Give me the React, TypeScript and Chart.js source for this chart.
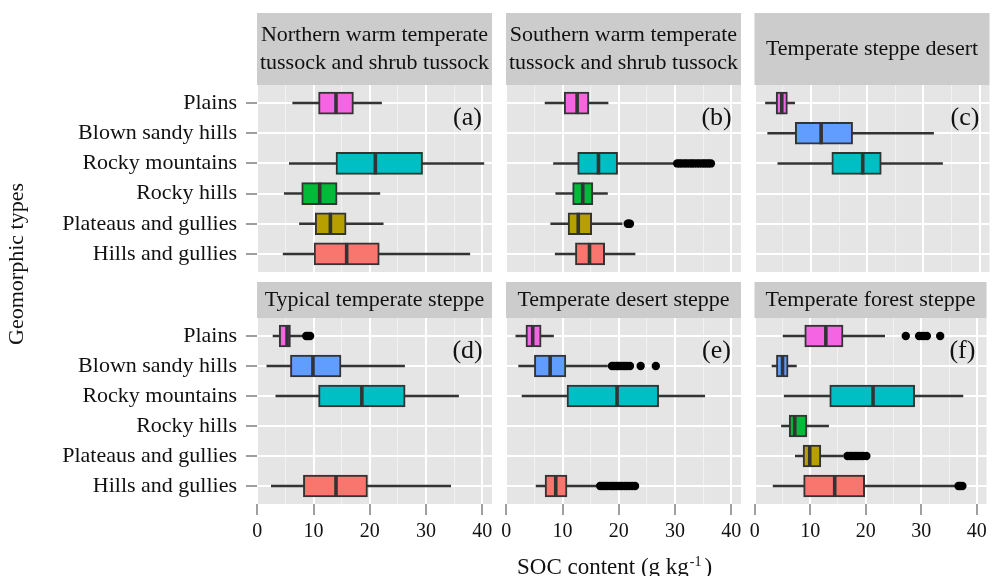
import React, { useEffect, useRef } from 'react';
import { Chart, registerables } from 'chart.js';

Chart.register(...registerables);

const W = 992;
const H = 576;
const FONT = '"Liberation Serif", "Times New Roman", serif';
const TEXT = '#111111';

// ---------- data ----------
const categories = [
  'Plains',
  'Blown sandy hills',
  'Rocky mountains',
  'Rocky hills',
  'Plateaus and gullies',
  'Hills and gullies',
];
const categoryColors = ['#F564E3', '#619CFF', '#00BFC4', '#00BA38', '#B79F00', '#F8766D'];
const xTicks = [0, 5, 10, 15, 20, 25, 30, 35, 40];
const xLabelTicks = [0, 10, 20, 30, 40];

const titleA = ['Northern warm temperate', 'tussock and shrub tussock'];
const titleB = ['Southern warm temperate', 'tussock and shrub tussock'];
const titleC = ['Temperate steppe desert'];
const titleD = ['Typical temperate steppe'];
const titleE = ['Temperate desert steppe'];
const titleF = ['Temperate forest steppe'];
const panelTags = ['(a)', '(b)', '(c)', '(d)', '(e)', '(f)'];
const yAxisTitle = 'Geomorphic types';
const xAxisTitleMain = 'SOC content (g kg';
const xAxisTitleSup = '-1';
const xAxisTitleEnd = ')';

// [lower whisker, Q1, median, Q3, upper whisker] per category (null = not present)
const statsA = [
  [6.3, 10.9, 14.0, 17.1, 22.1],
  null,
  [5.7, 14.0, 21.0, 29.4, 40.3],
  [4.8, 7.9, 11.1, 14.2, 21.8],
  [7.5, 10.3, 13.0, 15.8, 22.4],
  [4.6, 10.1, 15.9, 21.7, 37.8],
];
const statsB = [
  [6.9, 10.3, 12.6, 14.7, 18.1],
  null,
  [8.4, 12.7, 16.4, 19.8, 30.0],
  [8.8, 11.8, 13.6, 15.4, 18.0],
  [7.9, 11.0, 12.8, 15.2, 20.6],
  [8.7, 12.3, 14.8, 17.5, 22.9],
];
const statsC = [
  [1.9, 3.8, 4.8, 5.8, 7.1],
  [2.3, 7.2, 11.8, 17.4, 31.8],
  [4.1, 13.7, 19.2, 22.5, 33.4],
  null,
  null,
  null,
];
const statsD = [
  [2.8, 3.9, 5.3, 5.9, 8.0],
  [1.7, 5.9, 9.9, 14.9, 26.2],
  [3.3, 10.9, 18.6, 26.3, 35.8],
  null,
  null,
  [2.5, 8.2, 14.0, 19.6, 34.4],
];
const statsE = [
  [1.7, 3.5, 4.7, 6.2, 8.4],
  [2.2, 5.0, 7.8, 10.6, 18.0],
  [2.8, 10.8, 19.7, 27.1, 35.3],
  null,
  null,
  [5.3, 6.9, 8.8, 10.8, 16.0],
];
const statsF = [
  [5.1, 9.0, 12.8, 15.9, 23.4],
  [3.1, 3.9, 5.0, 6.0, 7.5],
  [5.3, 13.5, 21.3, 28.8, 37.5],
  [4.8, 6.2, 7.2, 9.4, 13.3],
  [7.3, 8.7, 9.9, 11.9, 15.9],
  [3.3, 8.8, 14.4, 19.8, 36.0],
];

// outliers: [category index, values]
const outliersA: [number, number[]][] = [];
const outliersB: [number, number[]][] = [
  [2, [30.4, 30.8, 31.2, 31.7, 32.1, 32.6, 33.0, 33.4, 33.9, 34.3, 34.8, 35.2, 35.6, 36.0, 36.4]],
  [4, [21.6, 21.8, 22.0]],
];
const outliersC: [number, number[]][] = [];
const outliersD: [number, number[]][] = [[0, [8.7, 9.0, 9.4]]];
const outliersE: [number, number[]][] = [
  [1, [18.8, 19.2, 19.6, 19.9, 20.3, 20.7, 21.1, 21.5, 22.0, 23.9, 26.6]],
  [5, [16.7, 17.1, 17.5, 17.9, 18.4, 18.8, 19.2, 19.6, 20.1, 20.5, 21.0, 21.4, 21.9, 22.4, 22.9]],
];
const outliersF: [number, number[]][] = [
  [0, [27.2, 29.6, 30.1, 30.5, 31.0, 33.4]],
  [4, [16.7, 17.2, 17.6, 18.1, 18.5, 19.0, 19.5, 20.1]],
  [5, [36.7, 37.0, 37.4]],
];

// ---------- layout ----------
const colLeft = [257, 506, 754.5];
const PANEL_W = 235;
const stripTop = [13, 282];
const rowTop = [85, 318];
const rowBottom = [272, 504];
const X_MIN = -0.05;
const X_MAX = 41.75;
const BOX_H = 22;

type Stats = (number[] | null)[];
interface Panel {
  title: string[];
  tag: string;
  stats: Stats;
  outliers: [number, number[]][];
  col: number;
  row: number;
}

const panels: Panel[] = [
  { title: titleA, tag: panelTags[0], stats: statsA, outliers: outliersA, col: 0, row: 0 },
  { title: titleB, tag: panelTags[1], stats: statsB, outliers: outliersB, col: 1, row: 0 },
  { title: titleC, tag: panelTags[2], stats: statsC, outliers: outliersC, col: 2, row: 0 },
  { title: titleD, tag: panelTags[3], stats: statsD, outliers: outliersD, col: 0, row: 1 },
  { title: titleE, tag: panelTags[4], stats: statsE, outliers: outliersE, col: 1, row: 1 },
  { title: titleF, tag: panelTags[5], stats: statsF, outliers: outliersF, col: 2, row: 1 },
];

function makeFacetPlugin(p: Panel) {
  return {
    id: 'facet' + p.col + p.row,
    beforeDraw(chart: any) {
      const { ctx, chartArea: a } = chart;
      ctx.save();
      ctx.fillStyle = '#E5E5E5';
      ctx.fillRect(a.left, a.top, a.right - a.left, a.bottom - a.top);
      const st = stripTop[p.row];
      ctx.fillStyle = '#CCCCCC';
      ctx.fillRect(a.left, st, a.right - a.left, a.top - st);
      ctx.fillStyle = TEXT;
      ctx.font = '22px ' + FONT;
      ctx.textAlign = 'center';
      ctx.textBaseline = 'middle';
      const cy = (st + a.top) / 2;
      const lh = 28;
      p.title.forEach((t, i) => {
        ctx.fillText(t, (a.left + a.right) / 2, cy + (i - (p.title.length - 1) / 2) * lh);
      });
      ctx.restore();
    },
    afterDatasetsDraw(chart: any) {
      const { ctx } = chart;
      const xs = chart.scales.x;
      const ys = chart.scales.y;
      ctx.save();
      ctx.strokeStyle = '#333333';
      ctx.lineWidth = 3.6;
      p.stats.forEach((s, i) => {
        if (!s) return;
        const x = xs.getPixelForValue(s[2]);
        const yc = ys.getPixelForValue(i + 1);
        ctx.beginPath();
        ctx.moveTo(x, yc - BOX_H / 2);
        ctx.lineTo(x, yc + BOX_H / 2);
        ctx.stroke();
      });
      ctx.fillStyle = TEXT;
      ctx.font = '26px ' + FONT;
      ctx.textAlign = 'center';
      ctx.textBaseline = 'middle';
      ctx.fillText(p.tag, xs.getPixelForValue(37.4), ys.getPixelForValue(1.5));
      ctx.restore();
    },
    afterDraw(chart: any) {
      const { ctx } = chart;
      if (p.col === 0 && p.row === 0) {
        ctx.save();
        ctx.fillStyle = TEXT;
        ctx.font = '22px ' + FONT;
        ctx.textAlign = 'center';
        ctx.textBaseline = 'middle';
        ctx.translate(17.5, 264);
        ctx.rotate(-Math.PI / 2);
        ctx.fillText(yAxisTitle, 0, 0);
        ctx.restore();
      }
      if (p.col === 1 && p.row === 1) {
        ctx.save();
        ctx.fillStyle = TEXT;
        ctx.textAlign = 'left';
        ctx.textBaseline = 'alphabetic';
        ctx.font = '23px ' + FONT;
        const x0 = 517;
        const base = 573.5;
        ctx.fillText(xAxisTitleMain, x0, base);
        const w1 = ctx.measureText(xAxisTitleMain).width;
        ctx.font = '14px ' + FONT;
        ctx.fillText(xAxisTitleSup, x0 + w1 + 1, base - 8);
        const w2 = ctx.measureText(xAxisTitleSup).width;
        ctx.font = '23px ' + FONT;
        ctx.fillText(xAxisTitleEnd, x0 + w1 + 1 + w2 + 3, base);
        ctx.restore();
      }
    },
  };
}

function buildConfig(p: Panel): any {
  const present = p.stats.map((s, i) => (s ? i : -1)).filter((i) => i >= 0);
  const whiskers = present.map((i) => ({ x: [p.stats[i]![0], p.stats[i]![4]], y: i + 1 }));
  const boxes = present.map((i) => ({ x: [p.stats[i]![1], p.stats[i]![3]], y: i + 1 }));
  const boxColors = present.map((i) => categoryColors[i]);
  const points: { x: number; y: number }[] = [];
  p.outliers.forEach(([ci, vals]) => vals.forEach((v) => points.push({ x: v, y: ci + 1 })));

  const isBottom = p.row === 1;
  const isLeft = p.col === 0;

  return {
    type: 'scatter',
    data: {
      datasets: [
        {
          type: 'scatter',
          data: points,
          pointRadius: 4.2,
          pointBackgroundColor: '#000000',
          pointBorderWidth: 0,
          order: 0,
        },
        {
          type: 'bar',
          indexAxis: 'y',
          data: boxes,
          backgroundColor: boxColors,
          borderColor: '#333333',
          borderWidth: 2,
          borderSkipped: false,
          barThickness: BOX_H,
          grouped: false,
          order: 1,
        },
        {
          type: 'bar',
          indexAxis: 'y',
          data: whiskers,
          backgroundColor: '#333333',
          borderWidth: 0,
          barThickness: 1.8,
          grouped: false,
          order: 2,
        },
      ],
    },
    options: {
      responsive: false,
      animation: false,
      events: [],
      layout: {
        padding: {
          left: isLeft ? 0 : colLeft[p.col],
          right: W - colLeft[p.col] - PANEL_W,
          top: rowTop[p.row],
          bottom: isBottom ? 0 : H - rowBottom[0],
        },
      },
      plugins: {
        legend: { display: false },
        tooltip: { enabled: false },
        title: { display: false },
      },
      scales: {
        x: {
          type: 'linear',
          min: X_MIN,
          max: X_MAX,
          bounds: 'data',
          offset: false,
          afterBuildTicks: (s: any) => {
            s.ticks = xTicks.map((v) => ({ value: v }));
          },
          afterFit: (s: any) => {
            s.height = isBottom ? H - rowBottom[1] : 0;
          },
          border: { display: false },
          grid: {
            offset: false,
            color: (c: any) => (c.tick && xLabelTicks.includes(c.tick.value) ? '#FFFFFF' : '#F2F2F2'),
            lineWidth: (c: any) => (c.tick && xLabelTicks.includes(c.tick.value) ? 2 : 1.1),
            drawTicks: isBottom,
            tickLength: 11,
            tickWidth: 1.5,
            tickColor: (c: any) =>
              c.tick && xLabelTicks.includes(c.tick.value) ? '#7F7F7F' : 'rgba(0,0,0,0)',
          },
          ticks: {
            display: isBottom,
            autoSkip: false,
            maxRotation: 0,
            padding: 5,
            color: TEXT,
            font: { family: FONT, size: 20 },
            callback: (v: number) => (xLabelTicks.includes(v) ? String(v) : ''),
          },
          title: { display: false },
        },
        y: {
          type: 'linear',
          min: 0.4,
          max: 6.6,
          reverse: true,
          bounds: 'data',
          offset: false,
          beginAtZero: false,
          afterBuildTicks: (s: any) => {
            s.ticks = categories.map((_, i) => ({ value: i + 1 }));
          },
          afterFit: (s: any) => {
            s.width = isLeft ? colLeft[0] : 0;
          },
          border: { display: false },
          grid: {
            offset: false,
            color: '#FFFFFF',
            lineWidth: 2,
            drawTicks: isLeft,
            tickLength: 11,
            tickWidth: 1.5,
            tickColor: '#7F7F7F',
          },
          ticks: {
            display: isLeft,
            autoSkip: false,
            padding: 9,
            color: TEXT,
            font: { family: FONT, size: 22 },
            callback: (v: number) => categories[Math.round(v) - 1] ?? '',
          },
        },
      },
    },
    plugins: [makeFacetPlugin(p)],
  };
}

function FacetPanel({ p }: { p: Panel }) {
  const ref = useRef<HTMLCanvasElement | null>(null);
  useEffect(() => {
    if (!ref.current) return;
    const chart = new Chart(ref.current, buildConfig(p));
    return () => chart.destroy();
  }, [p]);
  return (
    <canvas
      ref={ref}
      width={W}
      height={H}
      style={{ position: 'absolute', left: 0, top: 0, width: W, height: H }}
    />
  );
}

export default function App() {
  return (
    <div
      style={{
        position: 'absolute',
        left: 0,
        top: 0,
        width: W,
        height: H,
        background: '#FFFFFF',
        overflow: 'hidden',
      }}
    >
      {panels.map((p) => (
        <FacetPanel key={p.tag} p={p} />
      ))}
    </div>
  );
}
